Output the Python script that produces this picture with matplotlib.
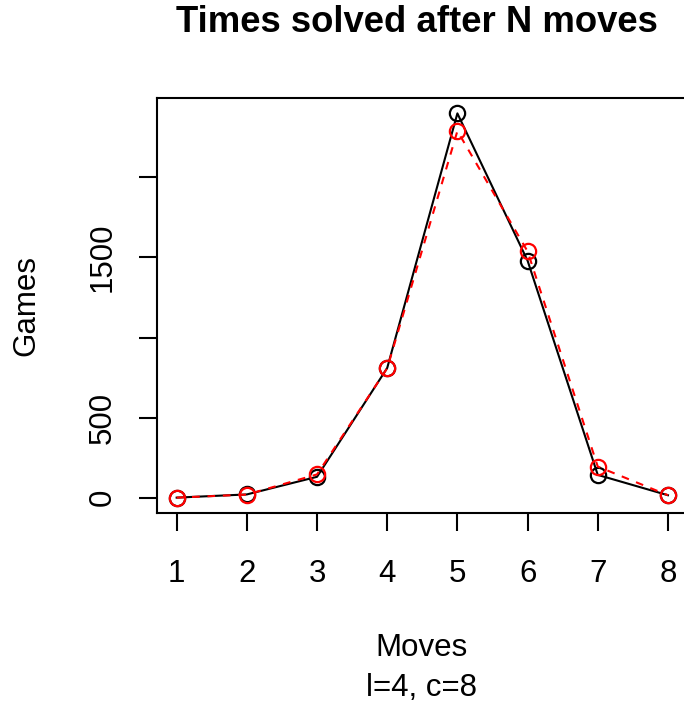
import matplotlib
matplotlib.use("Agg")
import matplotlib.pyplot as plt

moves = [1, 2, 3, 4, 5, 6, 7, 8]
games_black = [0, 20, 130, 810, 2400, 1480, 142, 15]
games_red = [0, 19, 145, 808, 2290, 1538, 194, 15]
ytick_vals = [0, 500, 1000, 1500, 2000]
ytick_labels = ["0", "500", "", "1500", ""]

plt.rcParams['font.family'] = ['Liberation Sans', 'DejaVu Sans']

fig = plt.figure(figsize=(6.84, 7.05), dpi=100)
ax = fig.add_axes([157/684, 1 - 513/705, (687.6 - 157)/684, (513 - 98)/705])

ax.plot(moves, games_black, color='black', lw=1.5, marker='o', ms=11,
        mfc='none', mec='black', mew=1.6)
ax.plot(moves, games_red, color='red', lw=1.5, ls=(0, (3.7, 3.7)), marker='o', ms=11,
        mfc='none', mec='red', mew=1.6)

ax.set_xlim(0.72, 8.28)
ax.set_ylim(-96, 2496)
ax.set_xticks(moves)
ax.set_xticklabels([str(m) for m in moves])
ax.set_yticks(ytick_vals)
ax.set_yticklabels(ytick_labels, rotation=90, va='center')

for s in ax.spines.values():
    s.set_linewidth(1.5)
ax.tick_params(axis='both', direction='out', length=13, width=1.5, labelsize=22.5)
ax.tick_params(axis='x', pad=20)
ax.tick_params(axis='y', pad=15)

fig.text(417/684, 1 - 22/705, "Times solved after N moves", ha='center', va='center',
         fontsize=26.3, fontweight='bold')
fig.text(422/684, 1 - 648/705, "Moves", ha='center', va='center', fontsize=22.5)
fig.text(422/684, 1 - 688/705, "l=4, c=8", ha='center', va='center', fontsize=22.5)
fig.text(26/684, 1 - 305/705, "Games", ha='center', va='center', fontsize=22.5, rotation=90)

fig.savefig("out.png", dpi=100)
